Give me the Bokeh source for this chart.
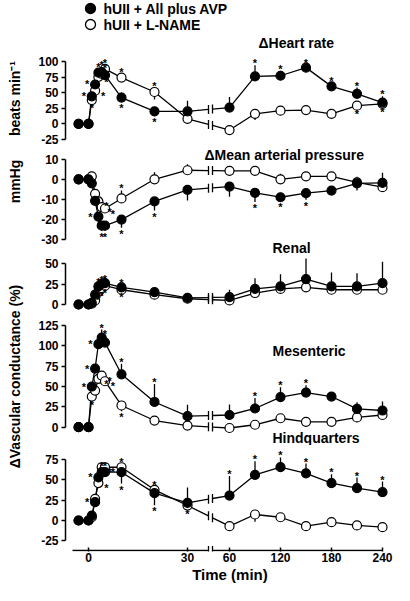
import math
from bokeh.plotting import figure
from bokeh.layouts import column, row
from bokeh.models import Range1d, FixedTicker
from bokeh.core.properties import value
from bokeh.embed import file_html
from bokeh.resources import INLINE

# ---------------- data ----------------
TIME = [-3, 0, 1, 2, 3, 4, 5, 10, 20, 30, 60, 90, 120, 150, 180, 210, 240]
X_TICKS = [0, 30, 60, 120, 180, 240]
SERIES = ["hUII + All plus AVP", "hUII + L-NAME"]

HR_AVP = [0, 0, 44, 63, 82, 83, 78, 42, 20, 20, 26, 76, 77, 90, 60, 48, 34]
HR_AVP_SEM = [0, 0, 4, 5, 6, 8, 8, 8, -8, 17, 17, 18, 8, 5, 6, 10, 10]
HR_LN = [0, 0, 38, 53, 75, 80, 88, 74, 51, 8, -10, 16, 21, 22, 16, 29, 32]
HR_LN_SEM = [0, 0, -3, -4, -5, -5, -6, -6, -12, -8, -5, -10, -5, -5, -4, -4, -4]
HR_AVP_SIG = [(1, "l"), (2, "l"), (3, "a"), (4, "a"), (5, "a"), (10, "b"), (20, "b"),
              (90, "a"), (120, "a"), (150, "a"), (180, "a"), (210, "a"), (240, "a")]
HR_LN_SIG = [(1, "b"), (2, "r"), (3, "r"), (5, "a"), (10, "a"), (20, "a"), (210, "b"), (240, "b")]

MAP_AVP = [0, 0, -2, -10.7, -18.5, -23, -23, -20, -11, -5.2, -3.6, -6.7, -8.9, -6.9, -5.6, -2, -1.8]
MAP_AVP_SEM = [0, 0, -1, -2, -3, -2.5, -2.5, -4, -4.5, -5.3, -5, -4.6, -2, -3.3, -1.5, -3.6, 5]
MAP_LN = [0, 0, 1.5, -7.2, -11, -13.8, -14.5, -9.5, 0, 4.5, 4.2, 4.2, 0, 1.5, 1.5, -1.5, -3.9]
MAP_LN_SEM = [0, 0, 1, 1.5, 2, 2, 2, 4, 3.5, 3, 1.5, 2, 2.8, 2, 2, 2.8, 1.5]
MAP_AVP_SIG = [(3, "l"), (4, "b"), (5, "b"), (10, "b"), (20, "b"), (90, "b"), (120, "b"), (150, "b")]
MAP_LN_SIG = [(3, "r"), (4, "r"), (5, "r"), (10, "a")]

REN_AVP = [0, 0, 2, 12, 22, 25, 26, 21, 15, 8, 9, 19, 22, 31, 22, 22, 26]
REN_AVP_SEM = [0, 0, 1, 2, 3, 3, 3, 3, 5, 5, 9, 13, 15, 25, 17, 16, 26]
REN_LN = [0, 0, 1, 5, 15, 20, 23, 18, 12, 7, 5, 14, 19, 21, 18, 18, 18]
REN_LN_SEM = [0, 0, -1, -2, -2, -2, -2, -2, -2, -2, -2, -2, -2, -2, -2, -2, -2]
REN_AVP_SIG = [(3, "a"), (4, "a"), (5, "a"), (10, "a")]
REN_LN_SIG = [(3, "b"), (4, "b"), (5, "b"), (10, "b")]

MES_AVP = [0, 0, 50, 72, 102, 110, 104, 65, 31, 13.5, 15, 23, 37, 42.6, 37.7, 22.6, 20.5]
MES_AVP_SEM = [0, 0, 3, 4, 6, 10, 8, 13, 22, 14, 13, 13, 12, 9, 3, 8, 11]
MES_LN = [0, 0, 37.7, 45, 59.5, 63.5, 56.5, 26.7, 8.2, 2, -1, 3, 11, 6.6, 6.6, 12, 15]
MES_LN_SEM = [0, 0, -3, -4, -5, -6, -5, -7, -2, -2, -2, -2, -2, -2, -2, -2, -2]
MES_AVP_SIG = [(1, "l"), (2, "l"), (3, "l"), (4, "a"), (5, "a"), (10, "a"), (20, "a"),
               (90, "a"), (120, "a"), (150, "a")]
MES_LN_SIG = [(1, "b"), (3, "r"), (4, "r"), (5, "r"), (10, "b")]

HQ_AVP = [0, 0, 6, 22.5, 53, 59.4, 59.4, 59.4, 33.6, 21.7, 30.7, 56, 65.6, 58, 46, 39.8, 34.8]
HQ_AVP_SEM = [0, 0, 2, 4, 5, 5, 5, -14, -15, 19, 24, 17, 12, 12, 11, 13, 13]
HQ_LN = [0, 0, 4, 26.6, 46, 65.5, 65.5, 65.5, 37.7, 18.4, -7, 7.4, 4, -7, -2, -6, -8.2]
HQ_LN_SEM = [0, 0, 2, 3, 4, 4, 4, 4, 3, -3, -3, -9, -3, -3, -3, -3, -3]
HQ_AVP_SIG = [(2, "l"), (3, "l"), (4, "a"), (5, "a"), (10, "b"), (20, "b"), (60, "a"), (90, "a"),
              (120, "a"), (150, "a"), (180, "a"), (210, "a"), (240, "a")]
HQ_LN_SIG = [(3, "r"), (4, "r"), (5, "r"), (10, "a"), (20, "a"), (30, "b")]

# ---------------- layout / style ----------------
FONT = "Liberation Sans"
LEFT_PX_PER_MIN = 3.3          # before the axis break
RIGHT_PX_PER_MIN = 0.85        # after the axis break
X_AT_60 = 141
BREAK_U = (120, 124)
AXIS_START_U = -16
X_ZERO_PX = 88                 # where 0 min sits, in canvas px
FRAME_LEFT_PX = 65
STRIP_W = 24
TOTAL_W = 394
PANEL_W = TOTAL_W - STRIP_W
X_RANGE = (FRAME_LEFT_PX - X_ZERO_PX, TOTAL_W - X_ZERO_PX)
BOTTOM_BORDER = 34

# (text, left px, centre y px) of the panel titles
TITLES = [("\u0394Heart rate", 258, 42), ("\u0394Mean arterial pressure", 204, 154),
          ("Renal", 272, 247), ("Mesenteric", 272, 350), ("Hindquarters", 272, 437)]


def xpos(t):
    if t <= 36:
        return round(t * LEFT_PX_PER_MIN, 6)
    return round(X_AT_60 + (t - 60) * RIGHT_PX_PER_MIN, 6)


def page_u(px):
    return px - X_ZERO_PX


PANELS = [
    dict(top=0, bot=146, zero=123.3, ppu=0.624, ticks=[-25, 0, 25, 50, 75, 100],
         avp=HR_AVP, avp_sem=HR_AVP_SEM, avp_sig=HR_AVP_SIG,
         ln=HR_LN, ln_sem=HR_LN_SEM, ln_sig=HR_LN_SIG),
    dict(top=146, bot=255, zero=178.8, ppu=2.015, ticks=[-30, -20, -10, 0, 10],
         avp=MAP_AVP, avp_sem=MAP_AVP_SEM, avp_sig=MAP_AVP_SIG,
         ln=MAP_LN, ln_sem=MAP_LN_SEM, ln_sig=MAP_LN_SIG),
    dict(top=255, bot=312, zero=304, ppu=0.82, ticks=[0, 25, 50],
         avp=REN_AVP, avp_sem=REN_AVP_SEM, avp_sig=REN_AVP_SIG,
         ln=REN_LN, ln_sem=REN_LN_SEM, ln_sig=REN_LN_SIG),
    dict(top=312, bot=445, zero=426.7, ppu=0.8136, ticks=[0, 25, 50, 75, 100, 125],
         avp=MES_AVP, avp_sem=MES_AVP_SEM, avp_sig=MES_AVP_SIG,
         ln=MES_LN, ln_sem=MES_LN_SEM, ln_sig=MES_LN_SIG),
    dict(top=445, bot=551, zero=520, ppu=0.8133, ticks=[-25, 0, 25, 50, 75],
         avp=HQ_AVP, avp_sem=HQ_AVP_SEM, avp_sig=HQ_AVP_SIG,
         ln=HQ_LN, ln_sem=HQ_LN_SEM, ln_sig=HQ_LN_SIG),
]


def page_y(sp, py):
    return (sp["zero"] - py) / sp["ppu"]


def draw_series(p, vals, sem):
    u = [xpos(t) for t in TIME]
    i30, i60 = TIME.index(30), TIME.index(60)

    def at(uq):
        return vals[i30] + (vals[i60] - vals[i30]) * (uq - u[i30]) / (u[i60] - u[i30])

    p.line(u[:i30 + 1] + [BREAK_U[0]], vals[:i30 + 1] + [at(BREAK_U[0])],
           line_color="black", line_width=1.3)
    p.line([BREAK_U[1]] + u[i60:], [at(BREAK_U[1])] + vals[i60:],
           line_color="black", line_width=1.3)
    p.scatter(list(BREAK_U), [at(b) for b in BREAK_U], marker="dash", angle=math.pi / 2,
              size=9, line_color="black", line_width=1.3)
    eb = [(ui, v, v + e) for ui, v, e in zip(u, vals, sem) if e != 0]
    p.segment(x0=[e[0] for e in eb], y0=[e[1] for e in eb], x1=[e[0] for e in eb],
              y1=[e[2] for e in eb], line_color="black", line_width=1.3)


def draw_stars(p, vals, sem, sig):
    xs, ys, xo, yo = [], [], [], []
    for t, code in sig:
        i = TIME.index(t)
        v, e = vals[i], sem[i]
        if code == "a":
            ys.append(v + max(e, 0)); xo.append(0); yo.append(-2 if e > 0 else -6)
        elif code == "b":
            ys.append(v + min(e, 0)); xo.append(0); yo.append(6 if e < 0 else 10)
        elif code == "l":
            ys.append(v); xo.append(-8); yo.append(0)
        else:
            ys.append(v); xo.append(8); yo.append(5)
        xs.append(xpos(t))
    p.text(x=xs, y=ys, text=["*"] * len(xs), x_offset=xo, y_offset=yo,
           text_align="center", text_baseline="middle", text_color="black",
           text_font=value(FONT), text_font_style="bold", text_font_size="11px")


def style_labels(ax, size="12px"):
    ax.major_label_text_font = FONT
    ax.major_label_text_font_style = "bold"
    ax.major_label_text_font_size = size
    ax.major_label_text_color = "black"


def build_panel(sp, first, last):
    y0, y1 = page_y(sp, sp["bot"]), page_y(sp, sp["top"])
    bb = BOTTOM_BORDER if last else 0
    p = figure(width=PANEL_W, height=sp["bot"] - sp["top"] + bb,
               x_range=Range1d(*X_RANGE), y_range=Range1d(y0, y1),
               x_axis_location="below" if last else None,
               output_backend="svg", toolbar_location=None,
               min_border_left=FRAME_LEFT_PX - STRIP_W, min_border_right=0,
               min_border_top=0, min_border_bottom=bb)
    p.outline_line_color = None
    p.grid.visible = False
    p.background_fill_color = "white"
    ya = p.yaxis[0]
    ya.ticker = FixedTicker(ticks=sp["ticks"])
    ya.major_label_overrides = {t: str(t) for t in sp["ticks"]}
    ya.bounds = (min(sp["ticks"]), max(sp["ticks"]))
    ya.axis_line_width = 1.5
    ya.major_tick_line_width = 1.5
    ya.major_tick_out = 4
    ya.major_tick_in = 0
    ya.minor_tick_line_color = None
    ya.major_label_standoff = 3
    style_labels(ya)

    draw_series(p, sp["ln"], sp["ln_sem"])
    draw_series(p, sp["avp"], sp["avp_sem"])
    u = [xpos(t) for t in TIME]
    p.scatter(u, sp["ln"], size=9, fill_color="white", line_color="black", line_width=1.2)
    p.scatter(u, sp["avp"], size=9, fill_color="black", line_color="black", line_width=1.2)
    draw_stars(p, sp["ln"], sp["ln_sem"], sp["ln_sig"])
    draw_stars(p, sp["avp"], sp["avp_sem"], sp["avp_sig"])

    mine = [t for t in TITLES if sp["top"] <= t[2] < sp["bot"]]
    if mine:
        p.text(x=[page_u(t[1]) for t in mine], y=[page_y(sp, t[2]) for t in mine],
               text=[t[0] for t in mine], text_align="left", text_baseline="middle",
               text_color="black", text_font=value(FONT), text_font_style="bold",
               text_font_size="14px")

    if first:
        ly = [page_y(sp, 8), page_y(sp, 24)]
        p.scatter([page_u(90)] * 2, ly, size=10, fill_color=["black", "white"],
                  line_color="black", line_width=1.3)
        p.text(x=[page_u(103)] * 2, y=ly, text=SERIES, text_align="left",
               text_baseline="middle", text_color="black", text_font=value(FONT),
               text_font_style="bold", text_font_size="14px")

    if last:
        xa = p.xaxis[0]
        xa.ticker = FixedTicker(ticks=[xpos(t) for t in X_TICKS])
        xa.major_label_overrides = {xpos(t): str(t) for t in X_TICKS}
        xa.axis_line_color = None
        xa.major_tick_in = 4
        xa.major_tick_out = 0
        xa.major_tick_line_width = 1.5
        xa.minor_tick_line_color = None
        xa.major_label_standoff = 1
        style_labels(xa)
        xa.axis_label = "Time (min)"
        xa.axis_label_standoff = 1
        xa.axis_label_text_font = FONT
        xa.axis_label_text_font_style = "bold"
        xa.axis_label_text_font_size = "15px"
        xa.axis_label_text_color = "black"
        yl = y0 + 1.0 / sp["ppu"]
        p.segment(x0=[AXIS_START_U, BREAK_U[1]], y0=[yl, yl], x1=[BREAK_U[0], xpos(240)],
                  y1=[yl, yl], line_color="black", line_width=1.5)
        p.scatter(list(BREAK_U), [yl, yl], marker="dash", angle=math.pi / 2, size=9,
                  line_color="black", line_width=1.3)
    return p


panels = [build_panel(sp, i == 0, i == len(PANELS) - 1) for i, sp in enumerate(PANELS)]
TOTAL_H = sum(p.height for p in panels)

strip = figure(width=STRIP_W, height=TOTAL_H, x_range=Range1d(0, STRIP_W),
               y_range=Range1d(TOTAL_H, 0), x_axis_location=None, y_axis_location=None,
               output_backend="svg", toolbar_location=None, min_border=0)
strip.outline_line_color = None
strip.grid.visible = False
strip.text(x=[14, 14, 14], y=[98, 181, 376],
           text=["beats min\u207b\u00b9", "mmHg", "\u0394Vascular conductance (%)"],
           angle=math.pi / 2, text_align="center", text_baseline="middle",
           text_color="black", text_font=value(FONT), text_font_style="bold",
           text_font_size="14px")

layout = row(strip, column(*panels))
open("out.html", "w").write(file_html(layout, INLINE))
